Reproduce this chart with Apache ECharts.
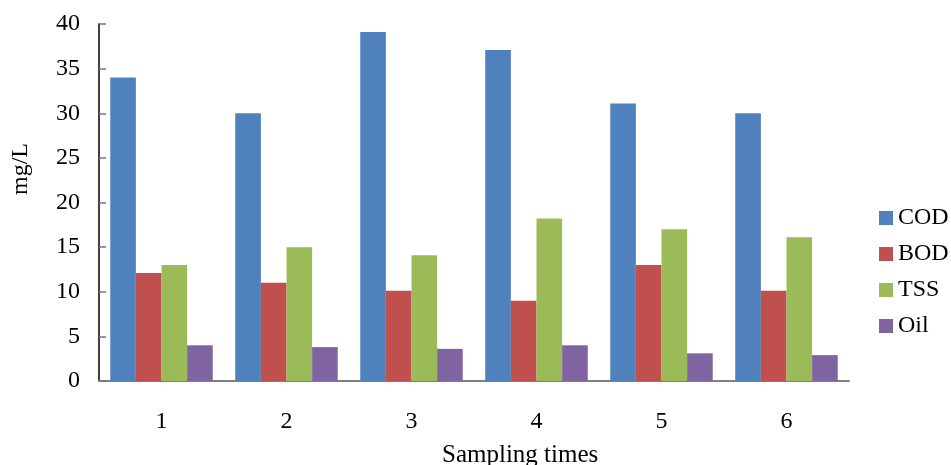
<!DOCTYPE html>
<html>
<head>
<meta charset="utf-8">
<script src="https://cdn.jsdelivr.net/npm/echarts@6/dist/echarts.min.js"></script>
<style>
  html, body { margin: 0; padding: 0; background: #fff; }
  #chart { width: 951px; height: 465px; }
</style>
</head>
<body>
<div id="chart"></div>
<script>
// sampling times
var categories = ["1", "2", "3", "4", "5", "6"];
// mg/L values
var cod = [34, 30, 39.1, 37.1, 31.1, 30];
var bod = [12.1, 11, 10.1, 9, 13, 10.1];
var tss = [13, 15, 14.1, 18.2, 17, 16.1];
var oil = [4, 3.8, 3.6, 4, 3.1, 2.9];

var font = "Liberation Serif, Times New Roman, serif";
var myChart = echarts.init(document.getElementById("chart"));

function bar(name, data, color) {
  return {
    name: name,
    type: "bar",
    data: data,
    barGap: "0%",
    barCategoryGap: "18%",
    itemStyle: { color: color },
  };
}

var option = {
  animation: false,
  textStyle: { fontFamily: font },
  grid: { left: 99, right: 102, top: 24, bottom: 84, outerBoundsMode: "none", containLabel: false },
  legend: {
    orient: "vertical",
    left: 874,
    top: 201,
    itemWidth: 14,
    itemHeight: 14,
    itemGap: 12,
    icon: "rect",
    textStyle: { fontFamily: font, fontSize: 24, color: "#000" },
    data: ["COD", "BOD", "TSS", "Oil"],
  },
  xAxis: {
    type: "category",
    data: categories,
    axisLine: { lineStyle: { color: "#808080", width: 2 } },
    axisTick: { inside: true, length: 7, lineStyle: { color: "#000", width: 1.5 } },
    axisLabel: { margin: 29, fontSize: 24, color: "#000", fontFamily: font },
  },
  yAxis: {
    type: "value",
    min: 0,
    max: 40,
    interval: 5,
    splitLine: { show: false },
    axisLine: { show: true, lineStyle: { color: "#000", width: 1.5 } },
    axisTick: { show: true, inside: true, length: 7, lineStyle: { color: "#777", width: 1.5 } },
    axisLabel: { margin: 19, fontSize: 24, color: "#000", fontFamily: font },
  },
  graphic: [
    {
      type: "text",
      left: 9,
      top: 143,
      rotation: Math.PI / 2,
      style: { text: "mg/L", fontSize: 24, fontFamily: font, fill: "#000" },
    },
    {
      type: "text",
      left: 442,
      top: 443,
      style: { text: "Sampling times", fontSize: 25, fontFamily: font, fill: "#000" },
    },
  ],
  series: [
    bar("COD", cod, "#4F81BD"),
    bar("BOD", bod, "#C0504D"),
    bar("TSS", tss, "#9BBB59"),
    bar("Oil", oil, "#8064A2"),
  ],
};
myChart.setOption(option);
</script>
</body>
</html>
